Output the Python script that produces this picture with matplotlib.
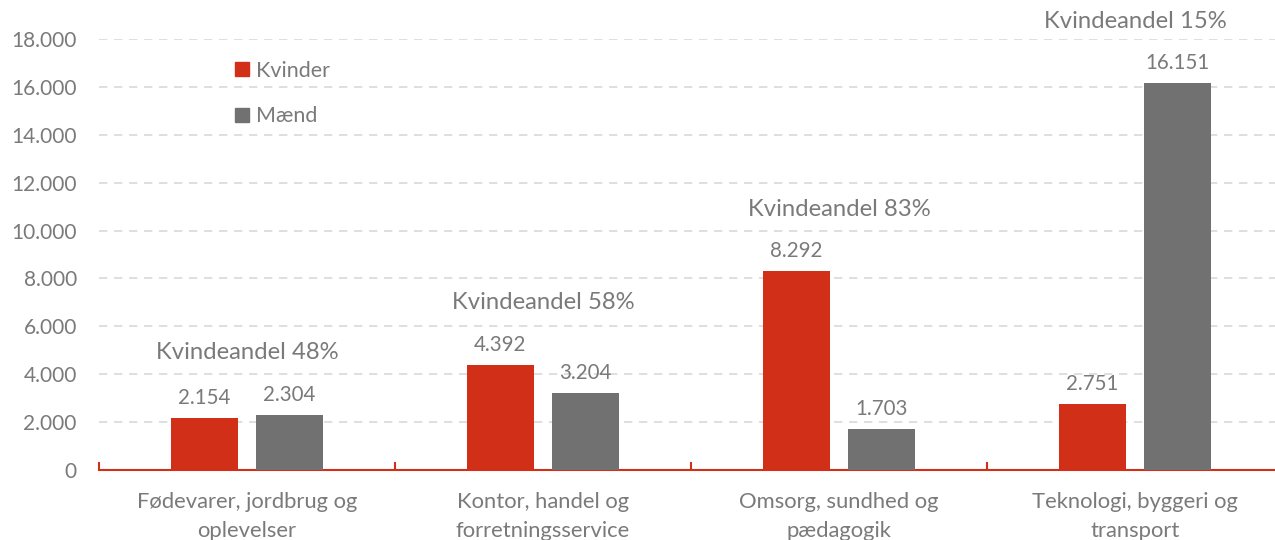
import matplotlib
matplotlib.use("Agg")
import matplotlib.pyplot as plt
from matplotlib.lines import Line2D
import numpy as np

categories = ["Fødevarer, jordbrug og\noplevelser", "Kontor, handel og\nforretningsservice",
              "Omsorg, sundhed og\npædagogik", "Teknologi, byggeri og\ntransport"]
kvinder = [2154, 4392, 8292, 2751]
maend = [2304, 3204, 1703, 16151]
andel = ["Kvindeandel 48%", "Kvindeandel 58%", "Kvindeandel 83%", "Kvindeandel 15%"]
yticks = [0, 2000, 4000, 6000, 8000, 10000, 12000, 14000, 16000, 18000]
ytick_labels = ["0", "2.000", "4.000", "6.000", "8.000", "10.000", "12.000", "14.000", "16.000", "18.000"]

RED = "#D12F18"
GRAY = "#717171"
TXT = "#7A7A7A"
FONT = ["Lato", "DejaVu Sans"]
plt.rcParams['font.family'] = FONT

fig = plt.figure(figsize=(12.75, 5.4), dpi=100)
ax = fig.add_axes([99/1275, 1-470/540, 1184/1275, 431/540])

x = np.arange(len(categories))
w = 0.226
off = 0.144
b1 = ax.bar(x - off, kvinder, w, color=RED, zorder=3)
b2 = ax.bar(x + off, maend, w, color=GRAY, zorder=3)

def fmt(v):
    return f"{v:,}".replace(",", ".")

for bars, vals in ((b1, kvinder), (b2, maend)):
    for r, v in zip(bars, vals):
        ax.annotate(fmt(v), (r.get_x() + r.get_width()/2, v), xytext=(0, 14.4),
                    textcoords="offset points", ha="center", va="center",
                    fontsize=14.8, color=TXT)

for i, t in enumerate(andel):
    top = max(kvinder[i], maend[i])
    ax.annotate(t, (x[i], top), xytext=(0, 44.6), textcoords="offset points",
                ha="center", va="center", fontsize=17.2, color=TXT, annotation_clip=False)

ax.set_xlim(-0.5, 3.5)
ax.set_ylim(0, 18000)
ax.set_yticks(yticks)
ax.set_yticklabels(ytick_labels)
ax.yaxis.grid(True, color="#D9D9D9", linestyle=(0, (5, 4)), linewidth=1.2, zorder=0)
ax.set_axisbelow(True)
ax.tick_params(axis="y", length=0, pad=16, labelsize=15, labelcolor=TXT)

ax.set_xticks(x)
ax.set_xticklabels(categories, linespacing=1.55)
ax.tick_params(axis="x", which="major", length=0, pad=16, labelsize=15.8, labelcolor=TXT)
ax.set_xticks([-0.5, 0.5, 1.5, 2.5, 3.5], minor=True)
ax.tick_params(axis="x", which="minor", direction="in", length=6, width=1.5, color=RED)

for s in ["top", "right", "left"]:
    ax.spines[s].set_visible(False)
ax.spines["bottom"].set_color(RED)
ax.spines["bottom"].set_linewidth(1.5)

handles = [Line2D([], [], marker="s", linestyle="none", markersize=9.5, color=RED),
           Line2D([], [], marker="s", linestyle="none", markersize=9.5, color=GRAY)]
leg = ax.legend(handles, ["Kvinder", "Mænd"], loc="upper left", bbox_to_anchor=(0.107, 0.97),
                frameon=False, fontsize=15.5, labelcolor=TXT, handlelength=0.7,
                handletextpad=0.3, labelspacing=1.2, borderaxespad=0)

fig.savefig("out.png", dpi=100)
